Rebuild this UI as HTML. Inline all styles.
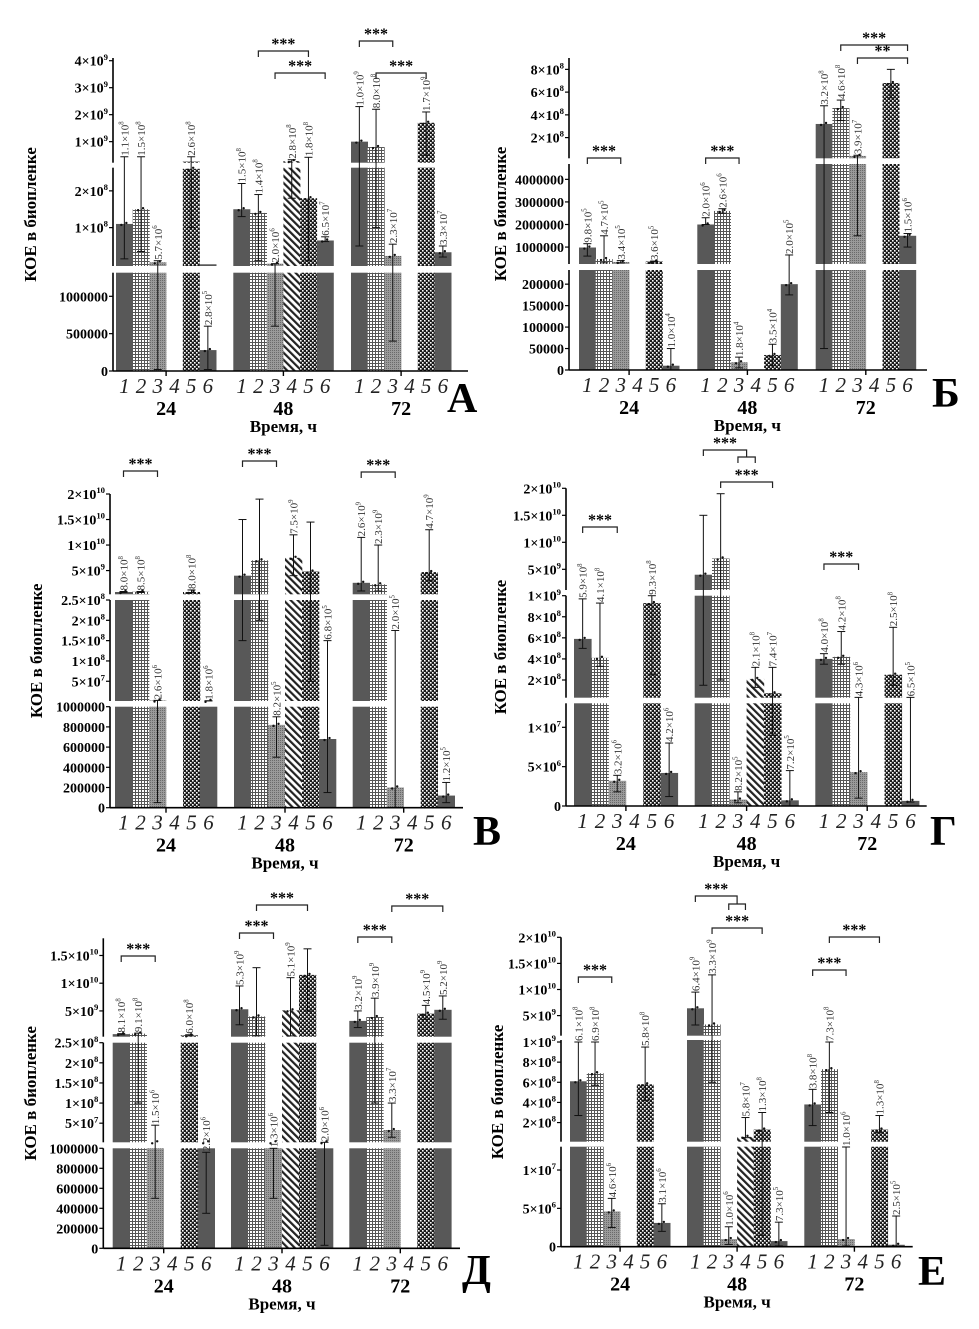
<!DOCTYPE html>
<html><head><meta charset="utf-8"><style>
html,body{margin:0;padding:0;background:#fff}
svg{display:block}
text{font-family:"Liberation Serif",serif}
</style></head><body>
<svg id="fig" width="979" height="1329" viewBox="0 0 979 1329" xmlns="http://www.w3.org/2000/svg">
<defs>
<pattern id="p2" width="3" height="3" patternUnits="userSpaceOnUse"><rect width="3" height="3" fill="#fff"/><rect width="3" height="1" fill="#555"/><rect width="1" height="3" fill="#555"/></pattern>
<pattern id="p3" width="2" height="2" patternUnits="userSpaceOnUse"><rect width="2" height="2" fill="#9a9a9a"/><rect width="1" height="1" fill="#6a6a6a"/></pattern>
<pattern id="p4" width="5" height="5" patternUnits="userSpaceOnUse" patternTransform="rotate(-45)"><rect width="5" height="5" fill="#fff"/><rect width="2.2" height="5" fill="#222"/></pattern>
<pattern id="p5" width="4" height="4" patternUnits="userSpaceOnUse"><rect width="4" height="4" fill="#1a1a1a"/><rect x="0" y="0" width="1.6" height="1.6" fill="#fff"/><rect x="2" y="2" width="1.6" height="1.6" fill="#fff"/></pattern>
</defs>
</svg>
<script>
// ---- data (values in CFU) ----
const groups = ['24','48','72'];
const barLabels = ['1','2','3','4','5','6'];

const vals_A = [[1.1e8,1.5e8,5.7e6,null,2.6e8,2.8e5],[1.5e8,1.4e8,2.0e6,2.8e8,1.8e8,6.5e7],[1.0e9,8.0e8,2.3e7,null,1.7e9,3.3e7]];
const hi_A = [[4.4e8,4.4e8,1.0e7,null,4.4e8,6e5],[2.2e8,1.9e8,2.0e6,3.3e8,4.2e8,7.5e7],[2.3e9,2.2e9,5.5e7,null,2.1e9,5e7]];
const lo_A = [[1.5e7,3.5e7,2e4,null,1e8,2e4],[1.3e8,1e7,6e5,1.8e8,1e7,6.2e7],[5e7,1e8,4e5,null,5e8,2e7]];

const vals_B = [[9.8e5,4.7e5,3.4e5,null,3.6e5,1.0e4],[2.0e6,2.6e6,1.8e4,null,3.5e4,2.0e5],[3.2e8,4.6e8,3.9e7,null,6.8e8,1.5e6]];
const hi_B = [[1.15e6,1.5e6,4e5,null,3.8e5,5e4],[2.3e6,2.7e6,3e4,null,6e4,6.5e5],[4.8e8,5.3e8,4.5e7,null,8e8,1.6e6]];
const lo_B = [[6e5,3e5,3e5,null,3.4e5,0],[2e6,2.5e6,5e3,null,1e4,1.75e5],[5e4,3.5e8,1.5e6,null,5.5e8,1.0e6]];
const show_B = [[1,1,1,0,1,1],[1,1,1,0,1,1],[1,1,1,0,0,1]];

const vals_V = [[8.0e8,8.5e8,2.6e6,null,8.0e8,1.8e6],[4.0e9,7.0e9,8.2e5,7.5e9,4.8e9,6.8e5],[2.6e9,2.3e9,2.0e5,null,4.7e9,1.2e5]];
const hi_V = [[9e8,9e8,3e6,null,1.2e9,1.9e6],[1.5e10,1.9e10,9e5,1.2e10,1.45e10,1.5e8],[1.15e10,1.0e10,1.75e8,null,1.3e10,2.5e5]];
const lo_V = [[7e8,7e8,5e4,null,7e8,1.7e6],[1.5e8,2e8,5e5,4e9,5e7,1.5e5],[1e9,1e9,0,null,3e9,5e4]];
const show_V = [[1,1,1,0,1,1],[0,0,1,1,0,1],[1,1,1,0,1,1]];

const vals_G = [[5.9e8,4.1e8,3.2e6,null,9.3e8,4.2e6],[4.0e9,7.0e9,8.2e5,2.1e8,7.4e7,7.2e5],[4.0e8,4.2e8,4.3e6,null,2.5e8,6.5e5]];
const hi_G = [[9.7e8,9.3e8,3.9e6,null,1.0e9,8e6],[1.5e10,1.9e10,1.8e6,3.2e8,3.2e8,4.5e6],[4.5e8,6.6e8,3.5e7,null,7e8,3.5e7]];
const lo_G = [[5.0e8,3.3e8,1.8e6,null,2.5e8,1.2e6],[1.5e8,2e8,4e5,1.3e8,9e6,0],[3.5e8,3.5e8,1e6,null,1.5e8,5e5]];
const show_G = [[1,1,1,0,1,1],[0,0,1,1,1,1],[1,1,1,0,1,1]];

const vals_D = [[8.1e8,9.1e8,1.5e6,null,6.0e8,2.2e6],[5.3e9,4.0e9,1.3e6,5.1e9,1.15e10,2.0e6],[3.2e9,3.9e9,3.3e7,null,4.5e9,5.2e9]];
const hi_D = [[9e8,1.0e9,4.5e7,null,7e8,9.6e5],[9.5e9,1.28e10,1e6,1.1e10,1.62e10,2.1e6],[5e9,7.3e9,1e8,null,6e9,7.7e9]];
const lo_D = [[7e8,1e8,5e5,null,5e8,3.5e5],[2.5e9,5e8,5e5,5e8,5e9,3e4],[2e9,1e8,1.5e7,null,3.5e9,3.5e9]];
const show_D = [[1,1,1,0,1,1],[1,0,1,1,0,1],[1,1,1,0,1,1]];

const vals_E = [[6.1e8,6.9e8,4.6e6,null,5.8e8,3.1e6],[6.4e9,3.3e9,1.0e6,5.8e7,1.3e8,7.3e5],[3.8e8,7.3e8,1.0e6,null,1.3e8,2.5e5]];
const hi_E = [[1e9,1e9,6.3e6,null,9.5e8,5.6e6],[9.5e9,1.28e10,2.6e6,2.5e8,3e8,3.2e6],[5.3e8,1e9,1.3e7,null,2.7e8,4e6]];
const lo_E = [[2.7e8,5.7e8,2.5e6,null,4.2e8,2e6],[3.2e9,6e8,3e5,5e7,1.5e6,1e5],[1.7e8,3e8,1e5,null,1e8,0]];

// brackets: [group, barA, barB, y]; nested: [group, barA, barC, barD, yBig, ySmall]
const br_A = [[1,2,5,51],[1,3,6,73],[2,1,3,41],[2,2,5,73]];
const br_B = [[0,1,3,158],[1,1,3,158],[2,2,6,45],[2,3,6,58,'**']];
const br_V = [[0,1,3,471],[1,1,3,461],[2,1,3,472]];
const br_G = [[0,1,3,527],[1,2,5,482],[2,1,3,564]];
const nest_G = [[1,1,3,4,450,457]];
const br_D = [[0,1,3,956],[1,1,3,933],[1,2,5,905],[2,1,3,937],[2,3,6,906]];
const br_E = [[0,1,3,977],[1,2,5,928],[2,1,3,970],[2,2,5,937]];
const nest_E = [[1,1,3,4,896,904]];

// ---- layout ----
const SN='http://www.w3.org/2000/svg';
const svg=document.getElementById('fig');
function el(tag,attrs,parent){const e=document.createElementNS(SN,tag);for(const k in attrs)e.setAttribute(k,attrs[k]);(parent||svg).appendChild(e);return e;}
const fills=['#585858','url(#p2)','url(#p3)','url(#p4)','url(#p5)','#585858'];

function sci(m,e){return [m,e];}
const panels=[
 {id:'a',letter:'А',vals:vals_A,hi:hi_A,lo:lo_A,show:null,br:br_A,nest:[],ax:113,bottom:371,right:468,starts:[116,233.3,351],w:16.7,titleX:30,lx:447,ly:412,
  segs:[{v0:0,v1:1.316e6,p0:371,p1:272.7,ticks:[[0,'0'],[5e5,'500000'],[1e6,'1000000']]},
        {v0:-0.044e8,v1:2.63e8,p0:266,p1:167.7,ticks:[[1e8,sci('1',8)],[2e8,sci('2',8)]]},
        {v0:0.22e9,v1:4.1e9,p0:162.7,p1:58,ticks:[[1e9,sci('1',9)],[2e9,sci('2',9)],[3e9,sci('3',9)],[4e9,sci('4',9)]]}]},
 {id:'b',letter:'Б',vals:vals_B,hi:hi_B,lo:lo_B,show:show_B,br:br_B,nest:[],ax:569,bottom:370,right:927,starts:[579,697.3,815.7],w:16.7,titleX:500,lx:932,ly:407,
  segs:[{v0:0,v1:2.33e5,p0:370,p1:270,ticks:[[0,'0'],[5e4,'50000'],[1e5,'100000'],[1.5e5,'150000'],[2e5,'200000']]},
        {v0:0.25e6,v1:4.68e6,p0:264,p1:164,ticks:[[1e6,'1000000'],[2e6,'2000000'],[3e6,'3000000'],[4e6,'4000000']]},
        {v0:0.18e8,v1:9.0e8,p0:158.3,p1:58,ticks:[[2e8,sci('2',8)],[4e8,sci('4',8)],[6e8,sci('6',8)],[8e8,sci('8',8)]]}]},
 {id:'v',letter:'В',vals:vals_V,hi:hi_V,lo:lo_V,show:show_V,br:br_V,nest:[],ax:110,bottom:807.7,right:463,starts:[115,234,352.7],w:17,titleX:36,lx:473,ly:845,
  segs:[{v0:0,v1:1e6,p0:807.7,p1:706.7,ticks:[[0,'0'],[2e5,'200000'],[4e5,'400000'],[6e5,'600000'],[8e5,'800000'],[1e6,'1000000']]},
        {v0:1.4e6,v1:2.5e8,p0:701,p1:600,ticks:[[5e7,sci('5',7)],[1e8,sci('1',8)],[1.5e8,sci('1.5',8)],[2e8,sci('2',8)],[2.5e8,sci('2.5',8)]]},
        {v0:0.35e9,v1:2e10,p0:594.3,p1:494,ticks:[[5e9,sci('5',9)],[1e10,sci('1',10)],[1.5e10,sci('1.5',10)],[2e10,sci('2',10)]]}]},
 {id:'g',letter:'Г',vals:vals_G,hi:hi_G,lo:lo_G,show:show_G,br:br_G,nest:nest_G,ax:566,bottom:806,right:926.7,starts:[574,694.7,815.3],w:17.3,titleX:500,lx:930,ly:845,
  segs:[{v0:0,v1:13.05e6,p0:806,p1:703.3,ticks:[[0,'0'],[5e6,sci('5',6)],[1e7,sci('1',7)]]},
        {v0:0.32e8,v1:1e9,p0:697.7,p1:595.7,ticks:[[2e8,sci('2',8)],[4e8,sci('4',8)],[6e8,sci('6',8)],[8e8,sci('8',8)],[1e9,sci('1',9)]]},
        {v0:1.17e9,v1:2e10,p0:590,p1:488.3,ticks:[[5e9,sci('5',9)],[1e10,sci('1',10)],[1.5e10,sci('1.5',10)],[2e10,sci('2',10)]]}]},
 {id:'d',letter:'Д',vals:vals_D,hi:hi_D,lo:lo_D,show:show_D,br:br_D,nest:[],ax:103.3,bottom:1248.3,right:460,starts:[112.7,231,349.3],w:17,titleX:30,lx:462,ly:1284,
  segs:[{v0:0,v1:1e6,p0:1248.3,p1:1148.3,ticks:[[0,'0'],[2e5,'200000'],[4e5,'400000'],[6e5,'600000'],[8e5,'800000'],[1e6,'1000000']]},
        {v0:2.5e6,v1:2.5e8,p0:1142.3,p1:1042.7,ticks:[[5e7,sci('5',7)],[1e8,sci('1',8)],[1.5e8,sci('1.5',8)],[2e8,sci('2',8)],[2.5e8,sci('2.5',8)]]},
        {v0:0.35e9,v1:1.81e10,p0:1036.7,p1:938.3,ticks:[[5e9,sci('5',9)],[1e10,sci('1',10)],[1.5e10,sci('1.5',10)]]}]},
 {id:'e',letter:'Е',vals:vals_E,hi:hi_E,lo:lo_E,show:null,br:br_E,nest:nest_E,ax:561,bottom:1246.7,right:912.7,starts:[570,687,804.3],w:16.7,titleX:497,lx:918,ly:1285,
  segs:[{v0:0,v1:13.04e6,p0:1246.7,p1:1146.7,ticks:[[0,'0'],[5e6,sci('5',6)],[1e7,sci('1',7)]]},
        {v0:0.1e8,v1:1.02e9,p0:1141.7,p1:1040,ticks:[[2e8,sci('2',8)],[4e8,sci('4',8)],[6e8,sci('6',8)],[8e8,sci('8',8)],[1e9,sci('1',9)]]},
        {v0:1.15e9,v1:2e10,p0:1035.7,p1:937.3,ticks:[[5e9,sci('5',9)],[1e10,sci('1',10)],[1.5e10,sci('1.5',10)],[2e10,sci('2',10)]]}]}
];

function mapSeg(s,v){return s.p0+(v-s.v0)/(s.v1-s.v0)*(s.p1-s.p0);}
function yOf(P,v){for(const s of P.segs){if(v<=s.v1){return v>=s.v0?mapSeg(s,v):s.p0;}}return P.segs[P.segs.length-1].p1;}
function fmt(v){let e=Math.floor(Math.log10(v));let m=v/Math.pow(10,e);if(m>=9.95){m/=10;e++;}return [m.toFixed(1),e];}
function sciText(parent,x,y,m,e,size,anchor,weight,fill,extra){
  const t=el('text',Object.assign({x:x,y:y,'font-size':size,'text-anchor':anchor,'font-weight':weight,fill:fill},extra||{}),parent);
  const a=el('tspan',{},t);a.textContent=m+'×10';
  const b=el('tspan',{dy:-size*0.42,'font-size':size*0.62},t);b.textContent=e;
  return t;}

panels.forEach(P=>{
  const g=el('g',{});
  
  
  const cx=(gi,b)=>P.starts[gi]+(b-0.5)*P.w;
  P.vals.forEach((row,gi)=>row.forEach((v,bi)=>{
    if(v==null)return;
    const bg=el('g',{},g);
    
    
    const x=P.starts[gi]+bi*P.w;
    P.segs.forEach(s=>{
      if(v<=s.v0)return;
      const top=Math.min(v,s.v1);
      const y=mapSeg(s,top);
      const h=s.p0-y;
      if(h<=0.3)return;
      el('rect',{x:x,y:y,width:P.w+0.3,height:h,fill:fills[bi]},bg);
    });
  }));
  P.vals.forEach((row,gi)=>row.forEach((v,bi)=>{
    if(v==null)return;
    const c=cx(gi,bi+1);
    const yh=yOf(P,P.hi[gi][bi]),yl=yOf(P,P.lo[gi][bi]);
    const eg=el('g',{},g);
    
    
    el('line',{x1:c,x2:c,y1:yh,y2:yl,stroke:'#111','stroke-width':1},eg);
    el('line',{x1:c-4,x2:c+4,y1:yh,y2:yh,stroke:'#111','stroke-width':1},eg);
    el('line',{x1:c-4,x2:c+4,y1:yl,y2:yl,stroke:'#111','stroke-width':1},eg);
    const yv=yOf(P,v);
    el('circle',{cx:c-3,cy:yv+1,r:1.2,fill:'#111'},eg);
    el('circle',{cx:c+2,cy:yv-1,r:1.2,fill:'#111'},eg);
    if(P.show && !P.show[gi][bi])return;
    const f=fmt(v);
    const t=sciText(g,0,0,f[0],f[1],11,'start','normal','#333',{transform:'translate('+(c+4)+','+(yh-1)+') rotate(-90)'});
    
    
  }));
  const axg=el('g',{},g);
  
  
  P.segs.forEach(s=>{
    el('line',{x1:P.ax,x2:P.ax,y1:s.p0,y2:s.p1,stroke:'#000','stroke-width':1.6},axg);
    s.ticks.forEach(tk=>{
      const y=mapSeg(s,tk[0]);
      el('line',{x1:P.ax-4,x2:P.ax,y1:y,y2:y,stroke:'#000','stroke-width':1.2},axg);
      let t;
      if(typeof tk[1]==='string'){t=el('text',{x:P.ax-5,y:y+5,'font-size':14,'font-weight':'bold','text-anchor':'end'},axg);t.textContent=tk[1];}
      else t=sciText(axg,P.ax-5,y+5,tk[1][0],tk[1][1],14,'end','bold','#000');
      
      
    });
  });
  const xg=el('g',{},g);
  
  
  el('line',{x1:P.ax,x2:P.right,y1:P.bottom,y2:P.bottom,stroke:'#000','stroke-width':1.6},xg);
  groups.forEach((gn,gi)=>{
    const mx=P.starts[gi]+3*P.w;
    el('line',{x1:mx,x2:mx,y1:P.bottom,y2:P.bottom+5,stroke:'#000','stroke-width':1.4},xg);
    barLabels.forEach((bl,bi)=>{
      const t=el('text',{x:cx(gi,bi+1),y:P.bottom+22,'font-size':21,'font-style':'italic','text-anchor':'middle',fill:'#222'},xg);
      t.textContent=bl;
      
      
    });
    const t=el('text',{x:mx,y:P.bottom+44,'font-size':20,'font-weight':'bold','text-anchor':'middle'},xg);
    t.textContent=gn;
    
    
  });
  const xt=el('text',{x:P.starts[1]+3*P.w,y:P.bottom+61,'font-size':17,'font-weight':'bold','text-anchor':'middle'},g);
  xt.textContent='Время, ч';
  
  
  const ymid=(P.bottom+P.segs[2].p1)/2;
  const yt=el('text',{x:0,y:0,'font-size':17,'font-weight':'bold','text-anchor':'middle',transform:'translate('+(P.titleX+6)+','+ymid+') rotate(-90)',
    style:'font-family:"Liberation Serif","DejaVu Serif",serif'},g);
  yt.textContent='КОЕ в биопленке';
  
  
  const lt=el('text',{x:P.lx,y:P.ly,'font-size':42,'font-weight':'bold'},g);
  lt.textContent=P.letter;
  
  
  P.br.forEach(b=>{
    const xa=cx(b[0],b[1]),xb=cx(b[0],b[2]),y=b[3];
    const bg=el('g',{},g);
    
    
    el('path',{d:'M'+xa+' '+(y+6)+'V'+y+'H'+xb+'V'+(y+6),fill:'none',stroke:'#222','stroke-width':1.2},bg);
    const t=el('text',{x:(xa+xb)/2,y:y-2,'font-size':16,'font-weight':'bold','text-anchor':'middle'},bg);
    t.textContent=b[4]||'***';
  });
  P.nest.forEach(b=>{
    const xa=cx(b[0],b[1]),xc=cx(b[0],b[2]),xd=cx(b[0],b[3]),y1=b[4],y2=b[5];
    const xm=(xc+xd)/2;
    const bg=el('g',{},g);
    
    
    el('path',{d:'M'+xa+' '+(y1+6)+'V'+y1+'H'+xm+'V'+y2+'M'+xc+' '+(y2+6)+'V'+y2+'H'+xd+'V'+(y2+6),fill:'none',stroke:'#222','stroke-width':1.2},bg);
    const t=el('text',{x:(xa+xm)/2,y:y1-2,'font-size':16,'font-weight':'bold','text-anchor':'middle'},bg);
    t.textContent='***';
  });
});
</script>
</body></html>
